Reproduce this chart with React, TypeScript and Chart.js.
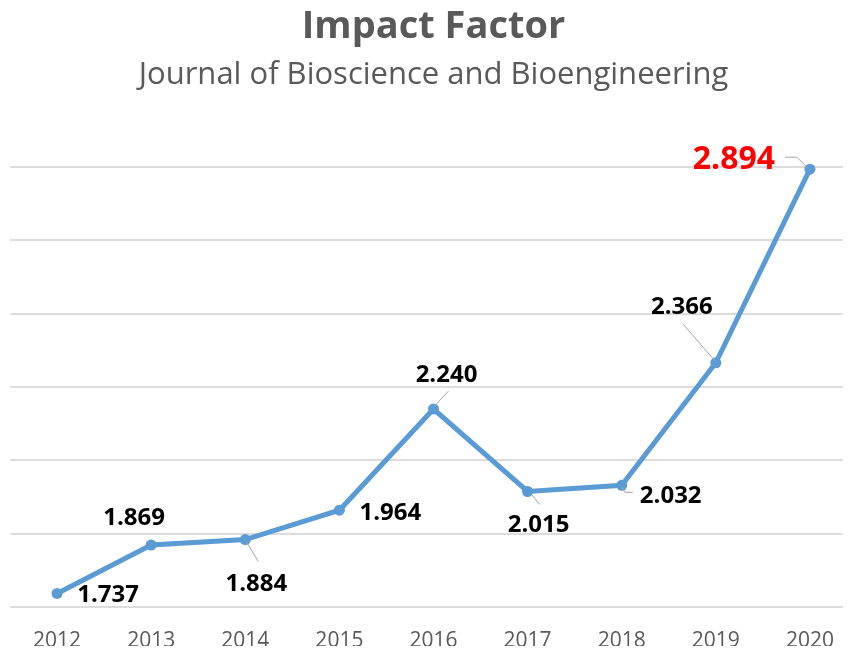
import React, { useEffect, useRef } from "react";
import { Chart, registerables } from "chart.js";

Chart.register(...registerables);

const years = ["2012", "2013", "2014", "2015", "2016", "2017", "2018", "2019", "2020"];
const impactFactors = [1.737, 1.869, 1.884, 1.964, 2.24, 2.015, 2.032, 2.366, 2.894];
const valueLabels = ["1.737", "1.869", "1.884", "1.964", "2.240", "2.015", "2.032", "2.366", "2.894"];
const yMin = 1.7;
const yMax = 2.9;
const yStep = 0.2;

// label centre offsets relative to each point (px)
const labelOffsets: [number, number][] = [
  [51, 2], [-17, -27], [11, 45], [51, 3], [13, -34], [11, 34], [49, 11], [-34, -56], [-76, -9],
];
// leader line polylines relative to each point
const leaderLines: ([number, number][] | null)[] = [
  null,
  null,
  [[13, 22], [1, 2]],
  null,
  [[15, -18], [1, -3]],
  [[12, 13], [4, 3]],
  [[11, 7], [3, 7], [0, 2]],
  [[-33, -39], [-1, -2]],
  [[-25, -12], [-13, -12], [-2, -1]],
];

const FONT = '"Open Sans", "DejaVu Sans", sans-serif';

const valueLabelPlugin = {
  id: "valueLabels",
  afterDatasetsDraw(chart: any) {
    const ctx = chart.ctx;
    const meta = chart.getDatasetMeta(0);
    const last = meta.data.length - 1;
    ctx.save();
    meta.data.forEach((pt: any, i: number) => {
      const x = pt.x;
      const y = pt.y;
      const lead = leaderLines[i];
      if (lead) {
        ctx.beginPath();
        ctx.strokeStyle = "#a6a6a6";
        ctx.lineWidth = 1;
        lead.forEach(([dx, dy], k) => {
          if (k === 0) ctx.moveTo(x + dx, y + dy);
          else ctx.lineTo(x + dx, y + dy);
        });
        ctx.stroke();
      }
      const hl = i === last;
      const [ox, oy] = labelOffsets[i];
      ctx.font = hl ? `bold 32px ${FONT}` : `bold 24px ${FONT}`;
      ctx.fillStyle = hl ? "#ff0000" : "#000000";
      ctx.textAlign = "center";
      ctx.textBaseline = "middle";
      ctx.fillText(valueLabels[i], x + ox, y + oy);
    });
    ctx.restore();
  },
};

export default function App() {
  const canvasRef = useRef<HTMLCanvasElement | null>(null);

  useEffect(() => {
    if (!canvasRef.current) return;
    const chart = new Chart(canvasRef.current, {
      type: "line",
      data: {
        labels: years,
        datasets: [
          {
            data: impactFactors,
            borderColor: "#5B9BD5",
            backgroundColor: "#5B9BD5",
            borderWidth: 5,
            pointRadius: 5.5,
            pointBorderWidth: 0,
            pointBackgroundColor: "#5B9BD5",
            tension: 0,
            clip: false as any,
          },
        ],
      },
      options: {
        responsive: false,
        animation: false,
        devicePixelRatio: 1,
        layout: { autoPadding: false, padding: { left: 2, right: 0, top: 0, bottom: 4 } },
        plugins: {
          legend: { display: false },
          tooltip: { enabled: false },
          title: {
            display: true,
            text: "Impact Factor",
            color: "#595959",
            font: { family: FONT, size: 38, weight: "bold", lineHeight: 1 },
            padding: { top: 0, bottom: 14 },
          },
          subtitle: {
            display: true,
            text: "Journal of Bioscience and Bioengineering",
            color: "#595959",
            font: { family: FONT, size: 31, weight: "normal", lineHeight: 1 },
            padding: { top: 0, bottom: 76 },
          },
        },
        scales: {
          x: {
            offset: true,
            grid: { display: false, drawTicks: false },
            border: { display: false },
            ticks: {
              color: "#595959",
              font: { family: FONT, size: 21, lineHeight: 1.2 },
              padding: 21,
              maxRotation: 0,
            },
            afterFit(scale: any) {
              scale.height = 43;
            },
          },
          y: {
            min: yMin,
            max: yMax,
            grid: { color: "#dcdcdc", lineWidth: 2, drawTicks: false },
            border: { display: false },
            ticks: { display: false, stepSize: yStep },
          },
        },
      },
      plugins: [valueLabelPlugin],
    });
    return () => chart.destroy();
  }, []);

  return (
    <div style={{ marginRight: -8, marginBottom: -8, height: 646, overflow: "hidden" }}>
      <canvas ref={canvasRef} width={849} height={646} style={{ display: "block" }} />
    </div>
  );
}
